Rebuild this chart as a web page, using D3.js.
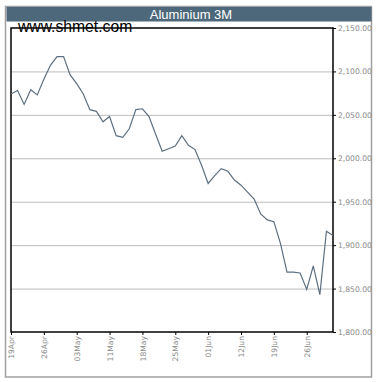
<!DOCTYPE html>
<html><head><meta charset="utf-8">
<script src="https://cdn.jsdelivr.net/npm/d3@7"></script>
<style>body{margin:0;background:#fff}svg{display:block}</style>
</head><body>
<svg id="c" width="382" height="382"></svg>
<script>
const title = "Aluminium 3M";
const watermark = "www.shmet.com";
const prices = [2074,2078,2062,2079,2073,2091,2107,2117,2117,2096,2086,2074,2056,2054,2042,2048,2026,2024,2034,2056,2057,2048,2028,2008,2011,2014,2026,2015,2010,1992,1971,1980,1988,1985,1975,1969,1961,1953,1936,1929,1927,1902,1869,1869,1868,1849,1876,1843,1916,1911];
const xTickIdx = [0,5,10,15,20,25,30,35,40,45];
const xTickLabels = ["19Apr","26Apr","03May","11May","18May","25May","01Jun","12Jun","19Jun","26Jun"];
const yTicks = [1800,1850,1900,1950,2000,2050,2100,2150];

const svg = d3.select("#c");
const L=11, R=333, T=28, B=332;
const x = d3.scaleLinear().domain([0, prices.length-1]).range([L,R]);
const y = d3.scaleLinear().domain([1800,2150]).range([B,T]);

// outer frame
svg.append("rect").attr("x",5.5).attr("y",6.5).attr("width",366).attr("height",370.5)
  .attr("fill","#fff").attr("stroke","#a0a0a0").attr("stroke-width",1.5);
// title bar
svg.append("rect").attr("x",6.5).attr("y",7).attr("width",365).attr("height",14.5).attr("fill","#4e687b");
svg.append("text").attr("x",191).attr("y",18.5).attr("text-anchor","middle")
  .attr("font-family","Liberation Sans, Arial").attr("font-size",13).attr("fill","#fff").text(title);

// grid
svg.append("g").selectAll("line").data(yTicks.filter(d=>d>1800&&d<2150)).join("line")
  .attr("x1",L).attr("x2",R).attr("y1",d=>y(d)+0.5).attr("y2",d=>y(d)+0.5)
  .attr("stroke","#bdbdbd").attr("stroke-width",1);

// right axis
const ya = d3.axisRight(y).tickValues(yTicks).tickSize(3).tickPadding(2).tickFormat(d3.format(",.2f"));
const gy = svg.append("g").attr("transform",`translate(${R},0)`).call(ya);
gy.select(".domain").remove();
gy.selectAll("line").attr("stroke","#000");
gy.selectAll("text").attr("font-family","DejaVu Sans").attr("font-size",7.6).attr("fill","#8a8a8a");

// bottom axis
const xa = d3.axisBottom(x).tickValues(xTickIdx).tickSize(3).tickFormat((d,i)=>xTickLabels[i]);
const gx = svg.append("g").attr("transform",`translate(0,${B})`).call(xa);
gx.select(".domain").remove();
gx.selectAll("line").attr("stroke","#000");
gx.selectAll("text").attr("font-family","DejaVu Sans").attr("font-size",7.6).attr("fill","#8a8a8a")
  .attr("transform","rotate(-90)").attr("text-anchor","end").attr("x",-4).attr("y",0).attr("dy","0.35em");

// plot box
svg.append("rect").attr("x",L).attr("y",T).attr("width",R-L).attr("height",B-T)
  .attr("fill","none").attr("stroke","#000").attr("stroke-width",1.5);

// line
svg.append("path").datum(prices)
  .attr("d", d3.line().x((d,i)=>x(i)).y(d=>y(d)))
  .attr("fill","none").attr("stroke","#5d7080").attr("stroke-width",1.2);

// watermark
svg.append("text").attr("x",18).attr("y",31.5)
  .attr("font-family","Liberation Sans, Arial").attr("font-size",15.7).attr("fill","#000").text(watermark);
</script>
</body></html>
